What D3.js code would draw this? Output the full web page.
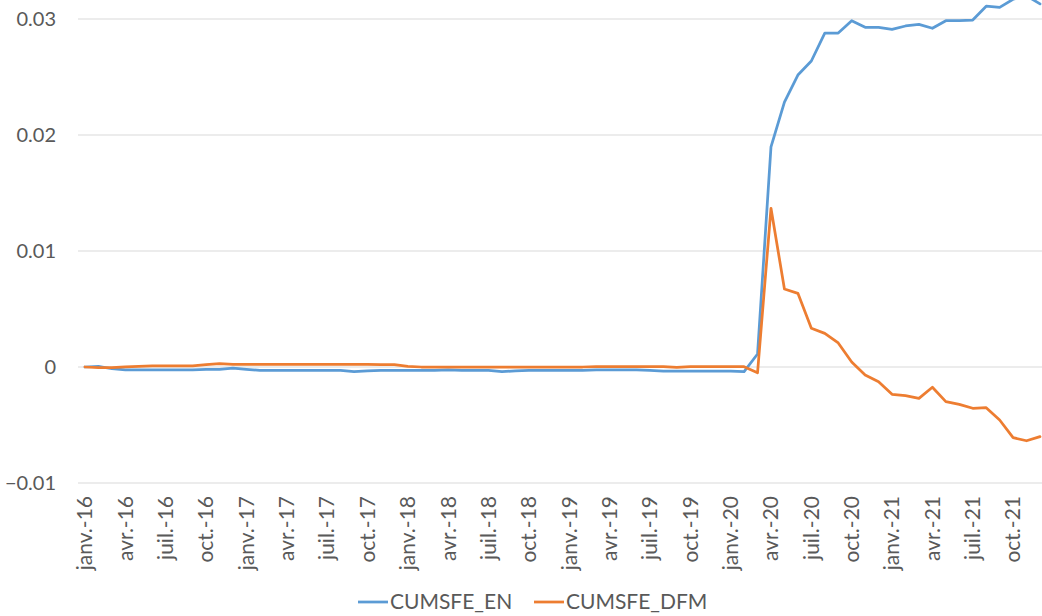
<!DOCTYPE html>
<html>
<head>
<meta charset="utf-8">
<script src="https://cdn.jsdelivr.net/npm/d3@7"></script>
<style>
  html, body { margin: 0; padding: 0; background: #fff; overflow: hidden; }
  svg { display: block; }
  text { font-family: Lato, "Open Sans", sans-serif; fill: #595959; }
</style>
</head>
<body>
<svg id="chart" width="1042" height="616"></svg>
<script>
// ---- data ----
const monthNames = ["janv.", "févr.", "mars", "avr.", "mai", "juin", "juil.", "août", "sept.", "oct.", "nov.", "déc."];
const years = ["16", "17", "18", "19", "20", "21"];
const categories = [];
years.forEach(y => monthNames.forEach(m => categories.push(m + "-" + y)));

const seriesNames = ["CUMSFE_EN", "CUMSFE_DFM"];

const cumsfeEN = [
  0.00000, 0.00005, -0.00015, -0.00025, -0.00025, -0.00025, -0.00025, -0.00025, -0.00025, -0.00020, -0.00020, -0.00010,
  -0.00020, -0.00030, -0.00030, -0.00030, -0.00030, -0.00030, -0.00030, -0.00030, -0.00040, -0.00033, -0.00030, -0.00030,
  -0.00030, -0.00030, -0.00030, -0.00025, -0.00030, -0.00030, -0.00030, -0.00040, -0.00033, -0.00030, -0.00030, -0.00030,
  -0.00030, -0.00030, -0.00025, -0.00025, -0.00025, -0.00025, -0.00030, -0.00035, -0.00035, -0.00035, -0.00035, -0.00035,
  -0.00035, -0.00040, 0.00112, 0.01897, 0.02284, 0.02517, 0.02638, 0.02879, 0.02879, 0.02985, 0.02928, 0.02928,
  0.02911, 0.02940, 0.02954, 0.02920, 0.02985, 0.02985, 0.02991, 0.03110, 0.03100, 0.03170, 0.03200, 0.03130
];

const cumsfeDFM = [
  0.00000, -0.00005, -0.00005, 0.00002, 0.00005, 0.00010, 0.00010, 0.00010, 0.00010, 0.00020, 0.00030, 0.00023,
  0.00023, 0.00023, 0.00023, 0.00023, 0.00023, 0.00023, 0.00023, 0.00023, 0.00023, 0.00023, 0.00020, 0.00020,
  0.00005, 0.00000, 0.00000, 0.00000, 0.00000, 0.00000, 0.00000, 0.00000, 0.00000, 0.00000, 0.00000, 0.00000,
  0.00000, 0.00000, 0.00003, 0.00003, 0.00003, 0.00003, 0.00003, 0.00003, -0.00003, 0.00003, 0.00003, 0.00003,
  0.00003, 0.00003, -0.00050, 0.01368, 0.00672, 0.00635, 0.00334, 0.00290, 0.00207, 0.00043, -0.00069, -0.00127,
  -0.00235, -0.00247, -0.00270, -0.00175, -0.00299, -0.00322, -0.00356, -0.00351, -0.00457, -0.00609, -0.00636, -0.00600
];

const yTicks = [-0.01, 0, 0.01, 0.02, 0.03];
const colors = ["#5B9BD5", "#ED7D31"];

// ---- layout ----
const svg = d3.select("#chart");
const x = d3.scalePoint().domain(categories).range([85, 1040]);
const y = d3.scaleLinear().domain([-0.01, 0.04]).range([483, -97]);

// gridlines
svg.append("g")
  .selectAll("line")
  .data(yTicks)
  .join("line")
  .attr("x1", 78).attr("x2", 1060)
  .attr("y1", d => y(d)).attr("y2", d => y(d))
  .attr("stroke", "#D9D9D9").attr("stroke-width", 1);

// y axis labels
const yFmt = d => d === 0 ? "0" : d3.format(".2f")(d);
svg.append("g")
  .selectAll("text")
  .data(yTicks)
  .join("text")
  .attr("x", 56)
  .attr("y", d => y(d))
  .attr("dy", "0.35em")
  .attr("text-anchor", "end")
  .style("font-size", "20px")
  .text(yFmt);

// x axis labels (every 3 months)
const xLabels = categories.filter((c, i) => i % 3 === 0);
svg.append("g")
  .selectAll("text")
  .data(xLabels)
  .join("text")
  .attr("transform", d => `translate(${x(d)},496) rotate(-90)`)
  .attr("dy", "0.35em")
  .attr("text-anchor", "end")
  .style("font-size", "21px")
  .text(d => d);

// lines
const line = d3.line()
  .x((d, i) => x(categories[i]))
  .y(d => y(d));

svg.append("defs").append("clipPath").attr("id", "clip")
  .append("rect").attr("x", 0).attr("y", -200).attr("width", 1042).attr("height", 900);

[cumsfeEN, cumsfeDFM].forEach((s, k) => {
  svg.append("path")
    .datum(s)
    .attr("clip-path", "url(#clip)")
    .attr("fill", "none")
    .attr("stroke", colors[k])
    .attr("stroke-width", 2.75)
    .attr("stroke-linejoin", "round")
    .attr("stroke-linecap", "round")
    .attr("d", line);
});

// legend
const legendItems = [
  { name: seriesNames[0], color: colors[0], x: 358 },
  { name: seriesNames[1], color: colors[1], x: 534 }
];
const lg = svg.append("g");
legendItems.forEach(it => {
  lg.append("line")
    .attr("x1", it.x).attr("x2", it.x + 30)
    .attr("y1", 602).attr("y2", 602)
    .attr("stroke", it.color).attr("stroke-width", 2.75);
  lg.append("text")
    .attr("x", it.x + 32)
    .attr("y", 602)
    .attr("dy", "0.35em")
    .style("font-size", "21px")
    .text(it.name);
});
</script>
</body>
</html>
